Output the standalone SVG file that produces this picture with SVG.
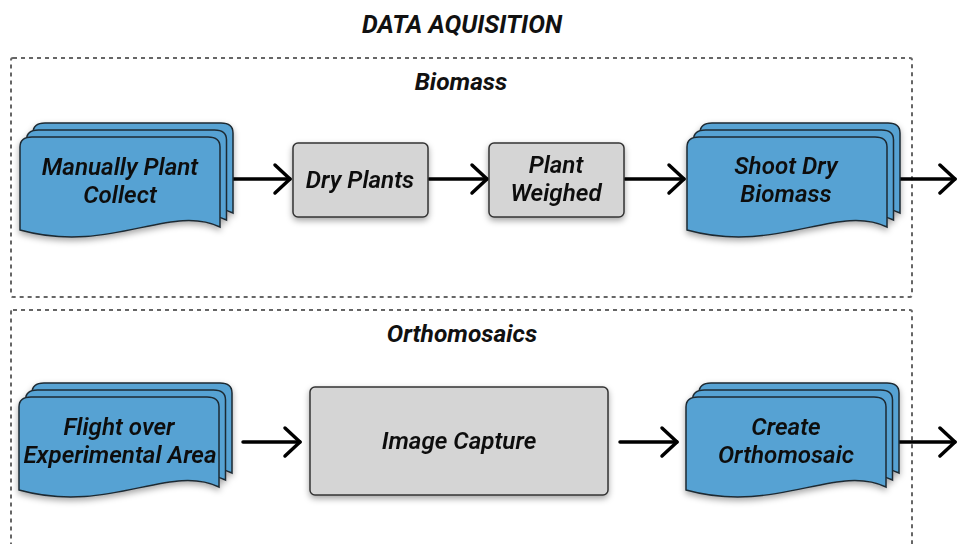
<svg xmlns="http://www.w3.org/2000/svg" width="957" height="544" viewBox="0 0 957 544">
<style>
  .t{font-family:Roboto,"Liberation Sans",sans-serif;font-weight:bold;font-style:italic;fill:#111;text-anchor:middle}
  .title{font-size:25px}
  .lbl{font-size:24.5px}
  .nt{font-size:24.2px;font-weight:600}
  .grp{fill:none;stroke:#666;stroke-width:2;stroke-dasharray:4 4}
  .doc{fill:#56a2d3;stroke:#1e2a33;stroke-width:1.5}
  .box{fill:#d5d5d5;stroke:#333;stroke-width:1.5}
  .ar{fill:none;stroke:#000;stroke-width:3.5;stroke-linecap:round}
</style>
<defs>
  <filter id="sh" x="-10%" y="-10%" width="125%" height="135%">
    <feDropShadow dx="0" dy="3" stdDeviation="3" flood-color="#000" flood-opacity="0.35"/>
  </filter>
  <path id="docp" d="M0,10 Q0,0 12,0 L188,0 Q200,0 200,10 L200,90 C150,66 90,118 0,93 Z"/>
  <g id="stack">
    <use href="#docp" class="doc" x="13" y="-14"/>
    <use href="#docp" class="doc" x="6.5" y="-7"/>
    <use href="#docp" class="doc"/>
  </g>
  <marker id="chev" markerUnits="userSpaceOnUse" markerWidth="24" markerHeight="34" refX="20" refY="17" orient="auto" viewBox="0 0 24 34">
    <path d="M5,3 L20,17 L5,31" fill="none" stroke="#000" stroke-width="3.5" stroke-linecap="round" stroke-linejoin="round"/>
  </marker>
</defs>
<rect width="957" height="544" fill="#fff"/>
<text class="t title" x="462" y="33" textLength="200" lengthAdjust="spacingAndGlyphs">DATA AQUISITION</text>

<g id="group-biomass">
  <rect class="grp" x="11" y="58" width="901" height="239" rx="2"/>
  <text class="t lbl" x="461" y="90">Biomass</text>
</g>
<g id="group-ortho">
  <rect class="grp" x="11" y="310" width="901" height="260" rx="2"/>
  <text class="t lbl" x="462" y="342">Orthomosaics</text>
</g>

<g id="connectors">
  <line class="ar" x1="232" y1="179" x2="290" y2="179" marker-end="url(#chev)"/>
  <line class="ar" x1="429" y1="179" x2="487" y2="179" marker-end="url(#chev)"/>
  <line class="ar" x1="625" y1="179" x2="684" y2="179" marker-end="url(#chev)"/>
  <line class="ar" x1="900" y1="179" x2="955" y2="179" marker-end="url(#chev)"/>
  <line class="ar" x1="243" y1="442" x2="300" y2="442" marker-end="url(#chev)"/>
  <line class="ar" x1="620" y1="442" x2="677" y2="442" marker-end="url(#chev)"/>
  <line class="ar" x1="898" y1="442" x2="955" y2="442" marker-end="url(#chev)"/>
</g>

<g id="n-manual" filter="url(#sh)">
  <use href="#stack" x="20" y="137"/>
  <text class="t nt" x="120" y="175">Manually Plant</text>
  <text class="t nt" x="120" y="203">Collect</text>
</g>
<g id="n-dry" filter="url(#sh)">
  <rect class="box" x="293" y="143" width="135" height="74" rx="5"/>
  <text class="t nt" x="360" y="188">Dry Plants</text>
</g>
<g id="n-weigh" filter="url(#sh)">
  <rect class="box" x="489" y="143" width="135" height="74" rx="5"/>
  <text class="t nt" x="556" y="173">Plant</text>
  <text class="t nt" x="556" y="201">Weighed</text>
</g>
<g id="n-shoot" filter="url(#sh)">
  <use href="#stack" x="687" y="137"/>
  <text class="t nt" x="786" y="174">Shoot Dry</text>
  <text class="t nt" x="786" y="202">Biomass</text>
</g>
<g id="n-flight" filter="url(#sh)">
  <use href="#stack" x="19" y="397"/>
  <text class="t nt" x="119" y="435">Flight over</text>
  <text class="t nt" x="120" y="463">Experimental Area</text>
</g>
<g id="n-capture" filter="url(#sh)">
  <rect class="box" x="310" y="387" width="298" height="108" rx="5"/>
  <text class="t nt" x="459" y="449">Image Capture</text>
</g>
<g id="n-create" filter="url(#sh)">
  <use href="#stack" x="686" y="397"/>
  <text class="t nt" x="786" y="435">Create</text>
  <text class="t nt" x="786" y="463">Orthomosaic</text>
</g>
</svg>
